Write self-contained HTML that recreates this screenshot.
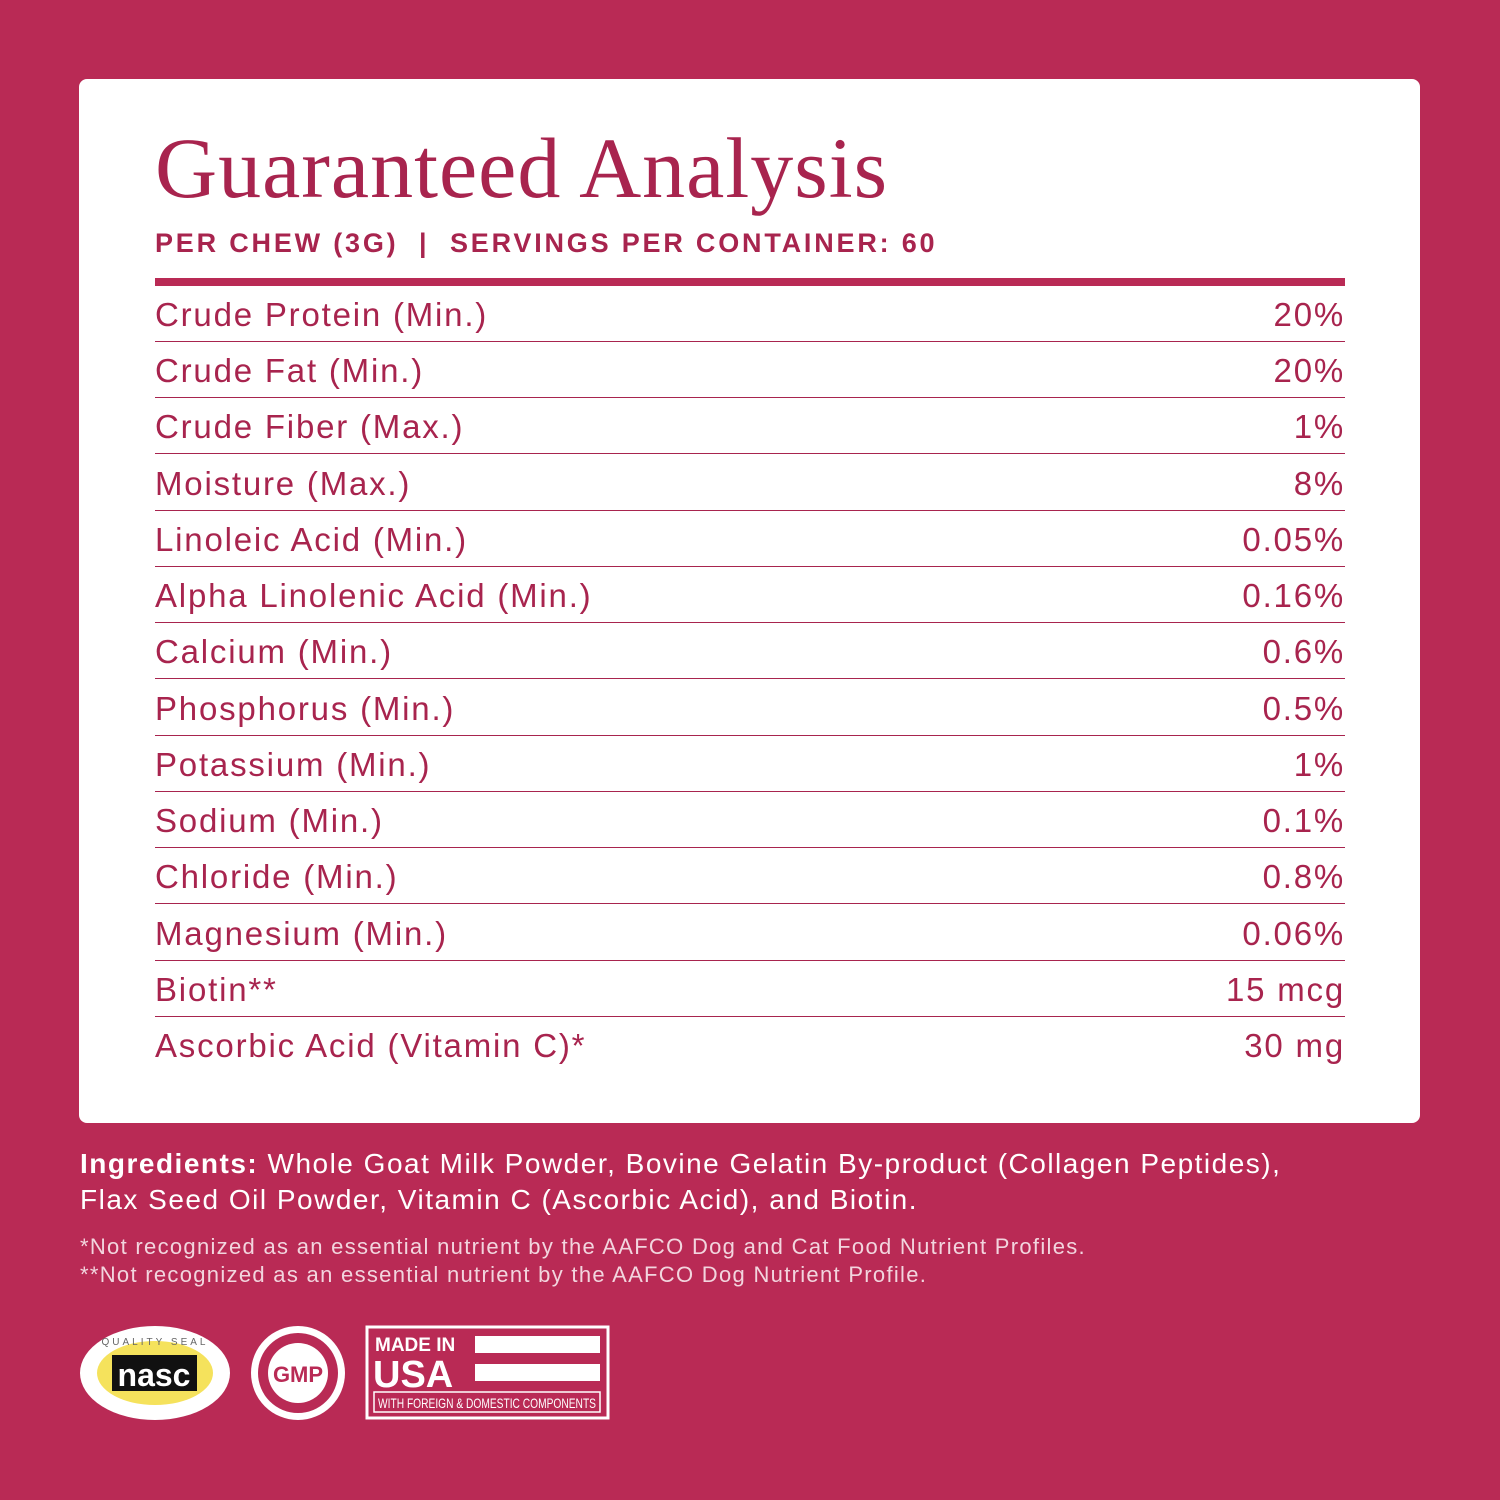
<!DOCTYPE html>
<html><head><meta charset="utf-8"><style>
body{margin:0;width:1500px;height:1500px;background:#b92a55;position:relative;font-family:"Liberation Sans",sans-serif;overflow:hidden}
.card{position:absolute;left:79px;top:79px;width:1341px;height:1044px;background:#fff;border-radius:8px}
.t{position:absolute;left:155px;top:118px;font-family:"Liberation Serif",serif;font-size:86px;color:#a8244e;letter-spacing:1px;white-space:nowrap}
.sub{position:absolute;left:155px;top:228px;font-size:27px;font-weight:bold;color:#a8244e;letter-spacing:2.8px;white-space:nowrap}
.bar{position:absolute;left:155px;top:278px;width:1190px;height:8px;background:#b92a55}
.row{position:absolute;left:155px;width:1190px;height:55px;border-bottom:1.5px solid #a8244e;color:#a8244e;font-size:33px;line-height:58px;letter-spacing:1.8px}
.row span{position:absolute;right:0}
.ing{position:absolute;left:80px;top:1146px;color:#fff;font-size:28px;line-height:36px;letter-spacing:1.5px;white-space:nowrap}
.fn{position:absolute;left:80px;top:1233px;color:#f2d5de;font-size:22px;line-height:28px;letter-spacing:1.3px;white-space:nowrap}
</style></head><body>
<div class="card"></div>
<div class="t">Guaranteed Analysis</div>
<div class="sub">PER CHEW (3G) &nbsp;| &nbsp;SERVINGS PER CONTAINER: 60</div>
<div class="bar"></div>
<div class="row" style="top:286px">Crude Protein (Min.)<span>20%</span></div>
<div class="row" style="top:342px">Crude Fat (Min.)<span>20%</span></div>
<div class="row" style="top:398px">Crude Fiber (Max.)<span>1%</span></div>
<div class="row" style="top:455px">Moisture (Max.)<span>8%</span></div>
<div class="row" style="top:511px">Linoleic Acid (Min.)<span>0.05%</span></div>
<div class="row" style="top:567px">Alpha Linolenic Acid (Min.)<span>0.16%</span></div>
<div class="row" style="top:623px">Calcium (Min.)<span>0.6%</span></div>
<div class="row" style="top:680px">Phosphorus (Min.)<span>0.5%</span></div>
<div class="row" style="top:736px">Potassium (Min.)<span>1%</span></div>
<div class="row" style="top:792px">Sodium (Min.)<span>0.1%</span></div>
<div class="row" style="top:848px">Chloride (Min.)<span>0.8%</span></div>
<div class="row" style="top:905px">Magnesium (Min.)<span>0.06%</span></div>
<div class="row" style="top:961px">Biotin**<span>15 mcg</span></div>
<div class="row" style="top:1017px;border-bottom:none">Ascorbic Acid (Vitamin C)*<span>30 mg</span></div>
<div class="ing"><b>Ingredients:</b> Whole Goat Milk Powder, Bovine Gelatin By-product (Collagen Peptides),<br>Flax Seed Oil Powder, Vitamin C (Ascorbic Acid), and Biotin.</div>
<div class="fn">*Not recognized as an essential nutrient by the AAFCO Dog and Cat Food Nutrient Profiles.<br>**Not recognized as an essential nutrient by the AAFCO Dog Nutrient Profile.</div>
<svg style="position:absolute;left:0;top:0" width="1500" height="1500">
<ellipse cx="155" cy="1373" rx="75" ry="47" fill="#fff"/>
<ellipse cx="155" cy="1373" rx="58" ry="32" fill="#f5e25c"/>
<rect x="112" y="1355" width="85" height="36" fill="#111"/>
<text x="154" y="1386" font-size="32" fill="#fff" text-anchor="middle" font-family="Liberation Sans Narrow,Liberation Sans" font-weight="bold">nasc</text>
<text x="155" y="1345" font-size="10" fill="#666" text-anchor="middle" letter-spacing="3">QUALITY SEAL</text>
<circle cx="298" cy="1373" r="47" fill="#fff"/>
<circle cx="298" cy="1373" r="40" fill="#b92a55"/>
<circle cx="298" cy="1373" r="30" fill="#fff"/>
<text x="298" y="1382" font-size="22" fill="#b92a55" text-anchor="middle" font-weight="bold" font-family="Liberation Sans Narrow,Liberation Sans">GMP</text>
<rect x="367" y="1327" width="241" height="91" fill="none" stroke="#fff" stroke-width="3"/>
<text x="375" y="1351" font-size="19" fill="#fff" font-weight="bold">MADE IN</text>
<text x="373" y="1387" font-size="38" fill="#fff" font-weight="bold">USA</text>
<rect x="475" y="1336" width="125" height="17" fill="#fff"/>
<rect x="475" y="1364" width="125" height="17" fill="#fff"/>
<rect x="374" y="1392" width="226" height="20" fill="none" stroke="#fff" stroke-width="1.5"/>
<text x="487" y="1408" font-size="14" fill="#fff" text-anchor="middle" textLength="218" lengthAdjust="spacingAndGlyphs">WITH FOREIGN &amp; DOMESTIC COMPONENTS</text>
</svg>
</body></html>
